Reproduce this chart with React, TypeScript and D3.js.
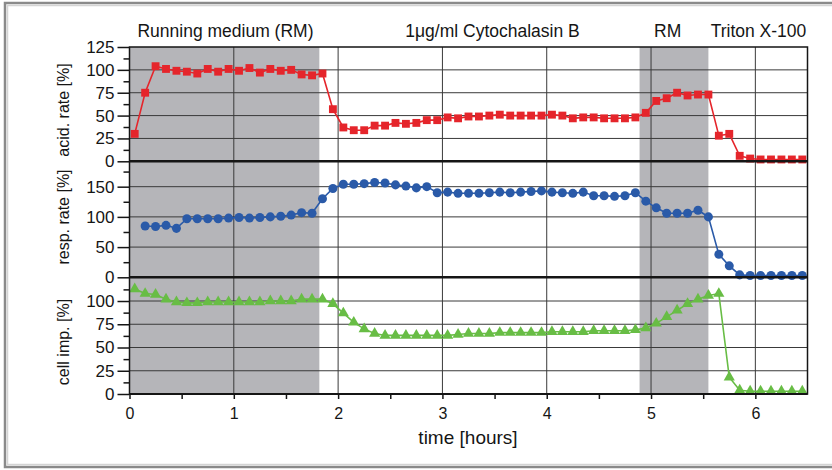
import React, { useEffect, useRef } from "react";
import * as d3 from "d3";

// sample times [hours]
const times = [
  0.05, 0.15, 0.25, 0.35, 0.45, 0.55, 0.65, 0.75, 0.85, 0.95,
  1.05, 1.15, 1.25, 1.35, 1.45, 1.55, 1.65, 1.75, 1.85, 1.95,
  2.05, 2.15, 2.25, 2.35, 2.45, 2.55, 2.65, 2.75, 2.85, 2.95,
  3.05, 3.15, 3.25, 3.35, 3.45, 3.55, 3.65, 3.75, 3.85, 3.95,
  4.05, 4.15, 4.25, 4.35, 4.45, 4.55, 4.65, 4.75, 4.85, 4.95,
  5.05, 5.15, 5.25, 5.35, 5.45, 5.55, 5.65, 5.75, 5.85, 5.95,
  6.05, 6.15, 6.25, 6.35, 6.45,
];

const acidRate = [
  30, 75, 104, 101, 99, 98, 96, 101, 98, 101,
  99, 102, 97, 101, 99, 100, 95, 94, 96, 57,
  37, 34, 34, 39, 39, 42, 41, 42, 45, 45,
  48, 47, 49, 49, 50, 51, 50, 50, 50, 50,
  51, 50, 47, 48, 48, 47, 47, 47, 48, 53,
  66, 69, 75, 72, 73, 73, 28, 30, 6, 3,
  2, 2, 2, 2, 2,
];

const respRate = [
  null, 85, 84, 86, 81, 97, 97, 97, 97, 98,
  99, 98, 99, 100, 101, 103, 107, 106, 130, 147,
  154, 154, 155, 157, 156, 153, 151, 148, 150, 140,
  141, 139, 139, 139, 140, 141, 140, 141, 142, 143,
  141, 140, 139, 141, 135, 135, 134, 135, 140, 126,
  115, 106, 106, 106, 111, 100, 38, 19, 4, 3,
  3, 3, 3, 3, 3,
];

const cellImp = [
  113, 108, 107, 102, 99, 98, 98, 99, 99, 99,
  99, 99, 99, 100, 100, 100, 102, 102, 102, 97,
  87, 77, 70, 65, 63, 63, 63, 63, 63, 63,
  63, 64, 65, 65, 65, 66, 66, 66, 66, 66,
  67, 67, 67, 67, 68, 68, 68, 68, 69, 71,
  76, 83, 90, 97, 102, 106, 108, 18, 4, 3,
  3, 3, 3, 3, 3,
];

// shaded "running medium" intervals [hours]
const shadeStart = [0, 4.89];
const shadeEnd = [1.82, 5.55];

const phaseLabels = ["Running medium (RM)", "1\u03bcg/ml Cytochalasin B", "RM", "Triton X-100"];
const phaseCenters = [0.92, 3.48, 5.16, 6.03];

const xTicks = [0, 1, 2, 3, 4, 5, 6];
const xMinorTicks = [0.5, 1.5, 2.5, 3.5, 4.5, 5.5];

const acidTicks = [0, 25, 50, 75, 100, 125];
const acidMinor = [12.5, 37.5, 62.5, 87.5, 112.5];
const respTicks = [0, 50, 100, 150];
const respMinor = [25, 75, 125, 175];
const cellTicks = [0, 25, 50, 75, 100];
const cellMinor = [12.5, 37.5, 62.5, 87.5, 112.5];

const App = () => {
  const svgRef = useRef<SVGSVGElement>(null);

  useEffect(() => {
    const svg = d3.select(svgRef.current);
    svg.selectAll("*").remove();

    const left = 129.5;
    const right = 807.5;
    const top = 47;
    const bottom = 394;
    const font = "Liberation Sans, Arial, sans-serif";
    const ink = "#151515";

    const x = d3.scaleLinear().domain([0, 6.5]).range([left, right]);

    const panels = [
      { data: acidRate, domain: [0, 125], y0: 161.3, y1: top, ticks: acidTicks, minor: acidMinor,
        title: "acid. rate [%]", titleY: 110, color: "#e5252b", symbol: d3.symbolSquare, size: 62 },
      { data: respRate, domain: [0, 192], y0: 277.3, y1: 161.3, ticks: respTicks, minor: respMinor,
        title: "resp. rate [%]", titleY: 217, color: "#2a5aa8", symbol: d3.symbolCircle, size: 64 },
      { data: cellImp, domain: [0, 125.5], y0: bottom, y1: 277.3, ticks: cellTicks, minor: cellMinor,
        title: "cell imp. [%]", titleY: 342, color: "#68bd45", symbol: d3.symbolTriangle, size: 54 },
    ];

    // outer frame
    svg.append("rect").attr("x", 5).attr("y", 3).attr("width", 840).attr("height", 464)
      .attr("fill", "white").attr("stroke", "#8a8a8a").attr("stroke-width", 2.5);
    svg.append("rect").attr("x", 7.5).attr("y", 5.5).attr("width", 840).attr("height", 459)
      .attr("fill", "none").attr("stroke", "#d4d4d4").attr("stroke-width", 1.5);

    // shading
    shadeStart.forEach((s, i) => {
      svg.append("rect")
        .attr("x", x(s)).attr("y", top)
        .attr("width", x(shadeEnd[i]) - x(s)).attr("height", bottom - top)
        .attr("fill", "#b5b5b9");
    });

    // vertical grid
    svg.append("g").selectAll("line").data(xTicks.slice(1)).join("line")
      .attr("x1", (d) => x(d)).attr("x2", (d) => x(d))
      .attr("y1", top).attr("y2", bottom)
      .attr("stroke", "#3a3a3a").attr("stroke-width", 1);

    panels.forEach((p) => {
      const y = d3.scaleLinear().domain(p.domain).range([p.y0, p.y1]);

      // horizontal grid
      svg.append("g").selectAll("line").data(p.ticks.filter((t) => t > 0 && y(t) > p.y1 + 2)).join("line")
        .attr("x1", left).attr("x2", right)
        .attr("y1", (d) => y(d)).attr("y2", (d) => y(d))
        .attr("stroke", "#3a3a3a").attr("stroke-width", 1);

      // y axis
      const ax = svg.append("g").attr("transform", `translate(${left},0)`)
        .call(d3.axisLeft(y).tickValues(p.ticks).tickSize(12).tickPadding(3).tickFormat(d3.format("d")));
      ax.select(".domain").remove();
      ax.selectAll("line").attr("stroke", ink).attr("stroke-width", 1.5);
      ax.selectAll("text").attr("font-family", font).attr("font-size", 17).attr("fill", ink);
      const mi = svg.append("g").attr("transform", `translate(${left},0)`)
        .call(d3.axisLeft(y).tickValues(p.minor).tickSize(6).tickFormat(() => ""));
      mi.select(".domain").remove();
      mi.selectAll("line").attr("stroke", ink).attr("stroke-width", 1.5);

      // title
      svg.append("text")
        .attr("transform", `translate(69,${p.titleY}) rotate(-90)`)
        .attr("text-anchor", "middle")
        .attr("font-family", font).attr("font-size", 16).attr("fill", ink)
        .text(p.title);

      // series
      const pts = times.map((t, i) => ({ t, v: p.data[i] })).filter((d) => d.v != null) as { t: number; v: number }[];
      const line = d3.line<{ t: number; v: number }>().x((d) => x(d.t)).y((d) => y(d.v));
      svg.append("path").datum(pts).attr("d", line)
        .attr("fill", "none").attr("stroke", p.color).attr("stroke-width", 1.6);
      const sym = d3.symbol().type(p.symbol).size(p.size);
      svg.append("g").selectAll("path").data(pts).join("path")
        .attr("transform", (d) => `translate(${x(d.t)},${y(d.v)})`)
        .attr("d", sym)
        .attr("fill", p.color);
    });

    // plot border and separators
    svg.append("rect").attr("x", left).attr("y", top).attr("width", right - left).attr("height", bottom - top)
      .attr("fill", "none").attr("stroke", ink).attr("stroke-width", 1.5);
    [161.3, 277.3].forEach((yy) => {
      svg.append("line").attr("x1", left).attr("x2", right).attr("y1", yy).attr("y2", yy)
        .attr("stroke", ink).attr("stroke-width", 2.5);
    });
    svg.append("line").attr("x1", left).attr("x2", right).attr("y1", bottom).attr("y2", bottom)
      .attr("stroke", ink).attr("stroke-width", 2);

    // x axis
    const xa = svg.append("g").attr("transform", `translate(0,${bottom})`)
      .call(d3.axisBottom(x).tickValues(xTicks).tickSize(5).tickPadding(9).tickFormat(d3.format("d")));
    xa.select(".domain").remove();
    xa.selectAll("line").attr("stroke", ink).attr("stroke-width", 1.5);
    xa.selectAll("text").attr("font-family", font).attr("font-size", 16).attr("fill", ink);
    const xm = svg.append("g").attr("transform", `translate(0,${bottom})`)
      .call(d3.axisBottom(x).tickValues(xMinorTicks).tickSize(5).tickFormat(() => ""));
    xm.select(".domain").remove();
    xm.selectAll("line").attr("stroke", ink).attr("stroke-width", 1.5);

    svg.append("text").attr("x", 468).attr("y", 444).attr("text-anchor", "middle")
      .attr("font-family", font).attr("font-size", 19).attr("fill", ink)
      .text("time [hours]");

    // phase labels
    svg.append("g").selectAll("text").data(phaseLabels).join("text")
      .attr("x", (d, i) => x(phaseCenters[i])).attr("y", 37)
      .attr("text-anchor", "middle")
      .attr("font-family", font).attr("font-size", 17.5).attr("fill", ink)
      .text((d) => d);
  }, []);

  return (
    <svg ref={svgRef} width={832} height={470}
      style={{ position: "absolute", left: 0, top: 0, background: "white" }}></svg>
  );
};

export default App;
